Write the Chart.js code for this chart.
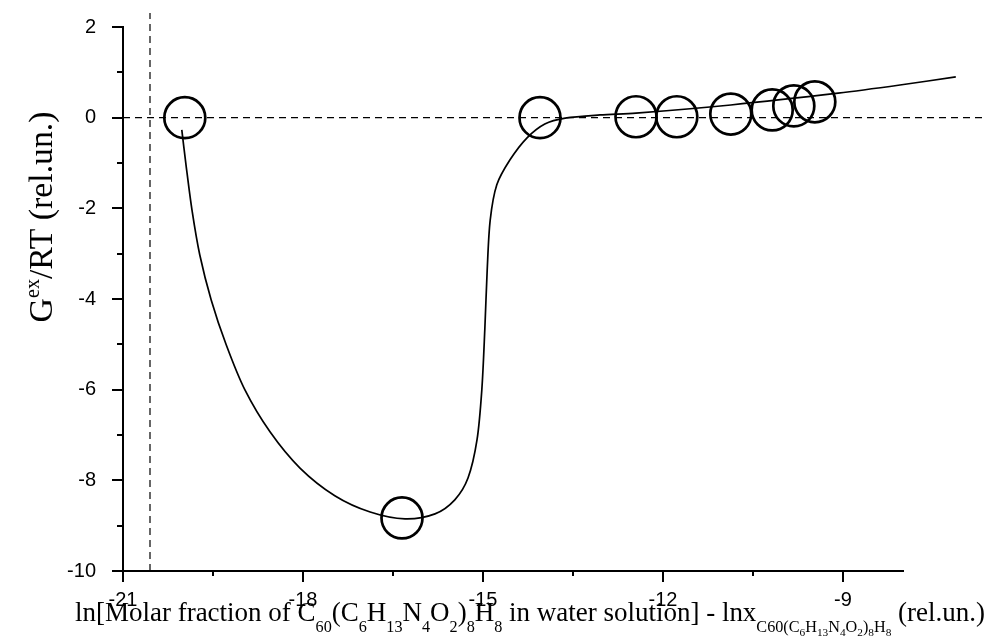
<!DOCTYPE html>
<html><head><meta charset="utf-8">
<script src="https://cdn.jsdelivr.net/npm/chart.js@4/dist/chart.umd.min.js"></script>
<style>html,body{margin:0;padding:0;background:#fff;}#wrap{width:989px;height:641px;position:relative;}</style>
</head><body><div id="wrap"><canvas id="c" width="989" height="641"></canvas></div>
<script>
// ---- data ----
const xTickLabels = [-21, -18, -15, -12, -9];
const xMinorTicks = [-19.5, -16.5, -13.5, -10.5];
const yTickLabels = [2, 0, -2, -4, -6, -8, -10];
const yMinorTicks = [1, -1, -3, -5, -7, -9];

const pointX = [-19.97, -16.35, -14.05, -12.45, -11.77, -10.87, -10.18, -9.82, -9.47];
const pointY = [0.0, -8.83, 0.0, 0.02, 0.02, 0.08, 0.17, 0.26, 0.35];

const curveX = [-20.02, -19.95, -19.85, -19.72, -19.53, -19.28, -18.97, -18.55, -18.05, -17.47, -16.88, -16.30, -15.80, -15.47, -15.25, -15.10, -15.02, -14.97, -14.93, -14.88, -14.77, -14.55, -14.27, -13.97, -13.63, -13.05, -12.45, -10.87, -9.08, -8.05, -7.12];
const curveY = [-0.27, -1.04, -2.04, -3.03, -4.02, -5.01, -6.00, -6.93, -7.73, -8.34, -8.70, -8.85, -8.74, -8.43, -7.95, -7.11, -6.01, -4.68, -3.36, -2.26, -1.48, -0.93, -0.45, -0.14, -0.01, 0.06, 0.10, 0.28, 0.54, 0.72, 0.90];

const zeroLineX = [-21, -6.65];
const zeroLineY = [0, 0];
const vLineX = [-20.55, -20.55];
const vLineY = [-10, 2.31];

const xTitleSegs = [
  ['ln[Molar fraction of C',0],['60',1],['(C',0],['6',1],['H',0],['13',1],['N',0],['4',1],['O',0],['2',1],[')',0],['8',1],['H',0],['8',1],
  [' in water solution] - lnx',0],
  ['C60(C',1],['6',2],['H',1],['13',2],['N',1],['4',2],['O',1],['2',2],[')',1],['8',2],['H',1],['8',2],
  [' (rel.un.)',0]
];
const yTitleSegs = [['G',0],['ex',-1],['/RT (rel.un.)',0]];

// ---- helpers ----
const pts = (xs, ys) => xs.map((x, i) => ({x: x, y: ys[i]}));
const SERIF = '"Liberation Serif", "Times New Roman", serif';

function segFont(F, lvl){
  const s = lvl === 0 ? F : (lvl === 1 || lvl === -1 ? F*0.6 : F*0.42);
  return s.toFixed(2) + 'px ' + SERIF;
}
function segOffset(F, lvl){
  if (lvl === 0) return 0;
  if (lvl === 1) return F*0.42;
  if (lvl === 2) return F*0.56;
  if (lvl === -1) return -F*0.38;
}
function measureSegs(ctx, segs, F){
  let w = 0;
  segs.forEach(([t,l]) => { ctx.font = segFont(F,l); w += ctx.measureText(t).width; });
  return w;
}
function drawSegs(ctx, segs, F, x, y){
  segs.forEach(([t,l]) => {
    ctx.font = segFont(F,l);
    ctx.fillText(t, x, y + segOffset(F,l));
    x += ctx.measureText(t).width;
  });
}

const deco = {
  id: 'deco',
  afterDraw(chart){
    const ctx = chart.ctx, xs = chart.scales.x, ys = chart.scales.y, a = chart.chartArea;
    ctx.save();
    ctx.strokeStyle = '#000'; ctx.lineWidth = 2; ctx.lineCap = 'butt';
    ctx.beginPath();
    yTickLabels.forEach(v => { const p = Math.round(ys.getPixelForValue(v)); ctx.moveTo(a.left - 11, p); ctx.lineTo(a.left, p); });
    yMinorTicks.forEach(v => { const p = Math.round(ys.getPixelForValue(v)); ctx.moveTo(a.left - 6, p); ctx.lineTo(a.left, p); });
    xTickLabels.forEach(v => { const p = Math.round(xs.getPixelForValue(v)); ctx.moveTo(p, a.bottom); ctx.lineTo(p, a.bottom + 11); });
    xMinorTicks.forEach(v => { const p = Math.round(xs.getPixelForValue(v)); ctx.moveTo(p, a.bottom); ctx.lineTo(p, a.bottom + 5); });
    ctx.stroke();

    ctx.fillStyle = '#000';
    ctx.textBaseline = 'alphabetic'; ctx.textAlign = 'left';
    // x title
    const targetW = 910;
    let F = 24;
    F = F * targetW / measureSegs(ctx, xTitleSegs, F);
    drawSegs(ctx, xTitleSegs, F, 75, 621);
    // y title
    const Fy = F * 1.25;
    const wy = measureSegs(ctx, yTitleSegs, Fy);
    ctx.translate(52, 217);
    ctx.rotate(-Math.PI/2);
    drawSegs(ctx, yTitleSegs, Fy, -wy/2, 0);
    ctx.restore();
  }
};

const tickFont = {family: '"Liberation Sans", Arial, sans-serif', size: 20};

new Chart(document.getElementById('c'), {
  type: 'scatter',
  data: {
    datasets: [
      {data: pts(zeroLineX, zeroLineY), showLine: true, borderColor: '#000', borderWidth: 1.2, borderDash: [7,5], pointRadius: 0, clip: false, order: 4},
      {data: pts(vLineX, vLineY), showLine: true, borderColor: '#000', borderWidth: 1.2, borderDash: [7,5], pointRadius: 0, clip: false, order: 3},
      {data: pts(curveX, curveY), showLine: true, borderColor: '#000', borderWidth: 1.7, pointRadius: 0, tension: 0.3, clip: false, order: 2},
      {data: pts(pointX, pointY), showLine: false, borderColor: '#000', pointBorderColor: '#000', pointBackgroundColor: 'rgba(0,0,0,0)', pointRadius: 20.5, pointBorderWidth: 2.7, clip: false, order: 1}
    ]
  },
  options: {
    responsive: false,
    animation: false,
    events: [],
    layout: {padding: {left: 0, top: 27, right: 86, bottom: 0}},
    plugins: {legend: {display: false}, tooltip: {enabled: false}},
    scales: {
      x: {
        type: 'linear', min: -21, max: -8,
        grid: {display: false},
        border: {display: true, color: '#000', width: 2},
        afterBuildTicks: s => { s.ticks = xTickLabels.map(v => ({value: v})); },
        afterFit: s => { s.height = 70; s.paddingLeft = 0; s.paddingRight = 0; },
        ticks: {color: '#000', font: tickFont, padding: 9, maxRotation: 0, autoSkip: false}
      },
      y: {
        type: 'linear', min: -10, max: 2,
        grid: {display: false},
        border: {display: true, color: '#000', width: 2},
        afterBuildTicks: s => { s.ticks = yTickLabels.map(v => ({value: v})); },
        afterFit: s => { s.width = 123; s.paddingTop = 0; s.paddingBottom = 0; },
        ticks: {color: '#000', font: tickFont, padding: 19, autoSkip: false}
      }
    }
  },
  plugins: [deco]
});
</script>
</body></html>
